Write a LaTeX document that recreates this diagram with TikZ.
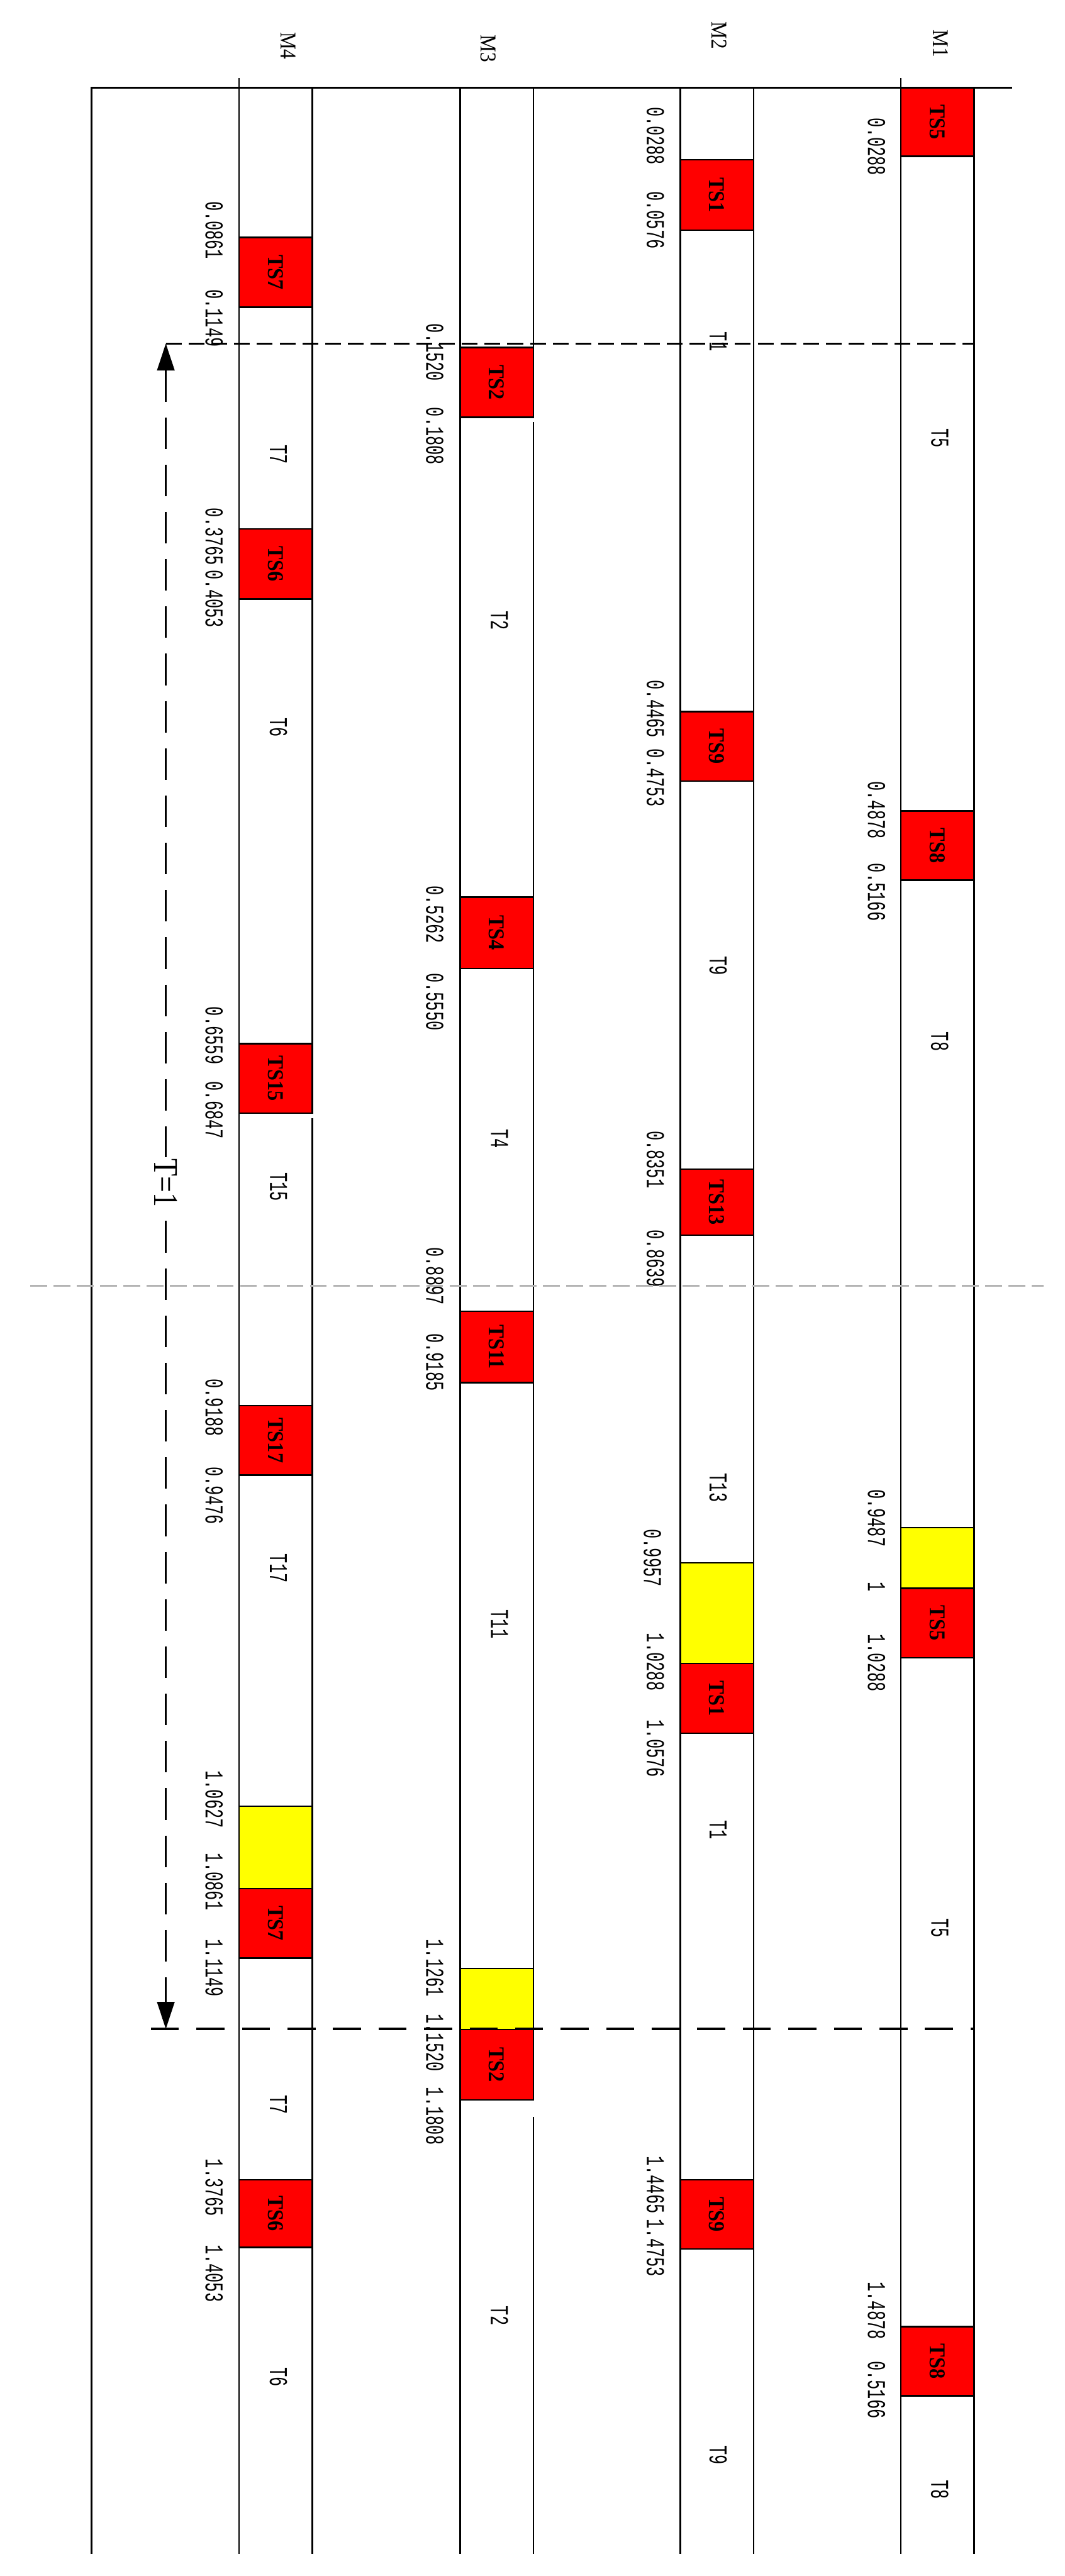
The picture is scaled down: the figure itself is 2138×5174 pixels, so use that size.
\documentclass[tikz,border=0pt]{standalone}
\usepackage{fontspec}
\usepackage{tikz}
\usetikzlibrary{arrows.meta}
\setmainfont{Liberation Serif}
\newfontfamily\valfont[FakeStretch=0.62]{Liberation Mono}
\newfontfamily\tsfont[FakeStretch=0.9]{Liberation Serif}
\newfontfamily\mfont[FakeStretch=0.87]{Liberation Serif}
\newfontfamily\perfont[FakeStretch=0.83]{Liberation Serif}
\definecolor{tsred}{RGB}{255,0,0}
\definecolor{idleyellow}{RGB}{255,255,0}
\definecolor{markgray}{RGB}{180,180,180}

\tikzset{
  lane/.style={line width=0.85pt},
  tsbox/.style={draw=black, fill=tsred, line width=0.9pt, rotate=-90, inner sep=0pt,
    minimum height=1.47cm, font=\tsfont\fontsize{12.9}{13}\selectfont\bfseries},
  idlebox/.style={draw=black, fill=idleyellow, line width=0.9pt, rotate=-90, inner sep=0pt,
    minimum height=1.47cm},
  tasklabel/.style={rotate=-90, inner sep=0pt, font=\valfont\fontsize{14.7}{15}\selectfont},
  vallabel/.style={rotate=-90, inner sep=0pt, font=\valfont\fontsize{14.7}{15}\selectfont},
  mlabel/.style={rotate=-90, inner sep=0pt, font=\mfont\fontsize{12.9}{13}\selectfont}
}

\begin{document}
\begin{tikzpicture}[x=0.01cm, y=-0.01cm]
\useasboundingbox (0,0) rectangle (2138,5174);

% machine headers
\node[mlabel] (m4) at (579,92) {M4};
\node[mlabel] (m3) at (980,98) {M3};
\node[mlabel] (m2) at (1444,71) {M2};
\node[mlabel] (m1) at (1889,88) {M1};

% frame and lanes
\draw[lane] (184,5130) -- (184,176) -- (2033,176);
\draw[lane] (480,157) -- (480,5130);
\draw[lane] (1809,157) -- (1809,5130);
\foreach \x in {924,1366}
    \draw[lane] (\x,176) -- (\x,5130);
\foreach \x in {1513,1956}
    \draw[lane] (\x,176) -- (\x,5130);
\draw[lane] (627,176) -- (627,2236) (627,2246) -- (627,5130);
\draw[lane] (1071,176) -- (1071,838) (1071,848) -- (1071,4218) (1071,4252) -- (1071,5130);

% idle time
\foreach \x/\a/\b [count=\i] in {1809/3068/3190, 1366/3139/3341, 924/3954/4076, 480/3628/3793}
    \node[idlebox, minimum width={(\b-\a)*0.01cm}] (idle\i) at ({\x+73.5},{(\a+\b)/2}) {};

% setup blocks
\foreach \x/\a/\b/\n [count=\i] in {
    1809/176/314/TS5, 1809/1629/1768/TS8, 1809/3190/3330/TS5, 1809/4673/4812/TS8,
    1366/321/462/TS1, 1366/1429/1569/TS9, 1366/2348/2481/TS13, 1366/3341/3481/TS1, 1366/4378/4517/TS9,
    924/698/838/TS2, 924/1802/1945/TS4, 924/2634/2777/TS11, 924/4076/4218/TS2,
    480/477/617/TS7, 480/1062/1203/TS6, 480/2096/2236/TS15, 480/2823/2963/TS17, 480/3793/3933/TS7, 480/4378/4514/TS6}
    \node[tsbox, minimum width={(\b-\a)*0.01cm}] (setup\i) at ({\x+73.5},{(\a+\b)/2}) {\n};

% task names
\foreach \x/\y/\t [count=\i] in {
    1887/880/T5, 1887/2092/T8, 1887/3872/T5, 1887/5000/T8,
    1442/686/T1, 1442/1940/T9, 1442/2988/T13, 1442/3675/T1, 1442/4931/T9,
    1003/1246/T2, 1003/2287/T4, 1003/3262/T11, 1003/4651/T2,
    559/913/T7, 559/1461/T6, 559/2384/T15, 559/3150/T17, 559/4227/T7, 559/4774/T6}
    \node[tasklabel] (task\i) at (\x,\y) {\t};

% times
\foreach \x/\y/\v [count=\i] in {
    1760/295/0.0288, 1760/1627/0.4878, 1760/1792/0.5166, 1760/3049/0.9487, 1760/3187/1,
    1760/3340/1.0288, 1760/4641/1.4878, 1760/4800/0.5166,
    1316/273/0.0288, 1316/442/0.0576, 1316/1424/0.4465, 1316/1562/0.4753, 1316/2329/0.8351,
    1316/2528/0.8639, 1310/3129/0.9957, 1316/3338/1.0288, 1316/3512/1.0576, 1316/4388/1.4465,
    1316/4515/1.4753,
    873/708/0.1520, 873/876/0.1808, 873/1837/0.5262, 873/2012/0.5550, 873/2563/0.8897,
    873/2736/0.9185, 873/3953/1.1261, 873/4103/1.1520, 873/4250/1.1808,
    430/463/0.0861, 430/639/0.1149, 430/1078/0.3765, 430/1203/0.4053, 430/2080/0.6559,
    430/2230/0.6847, 430/2827/0.9188, 430/3004/0.9476, 430/3614/1.0627, 430/3779/1.0861,
    430/3953/1.1149, 430/4394/1.3765, 430/4566/1.4053}
    \node[vallabel] (time\i) at (\x,\y) {\v};

% period T=1
\coordinate (p0) at (333,690);
\coordinate (p1) at (333,4075);
\coordinate (h0) at (303,4075);
\coordinate (e0) at (1956,690);
\coordinate (e1) at (1956,4075);
\draw[line width=0.9pt, dash pattern=on 9pt off 4pt] (p0) -- (e0);
\draw[line width=1.2pt, dash pattern=on 16pt off 10pt] (h0) -- (e1);
\draw[line width=0.85pt, dash pattern=on 18pt off 9pt,
    {Triangle[length=5.4mm, width=3.5mm]}-{Triangle[length=5.4mm, width=3.5mm]}] (p0) -- (p1);
\node[rotate=-90, fill=white, inner sep=1pt, font=\perfont\fontsize{19.8}{20}\selectfont] (period) at (333,2376) {T=1};

% current time
\coordinate (g0) at (61,2582);
\coordinate (g1) at (2095,2582);
\draw[markgray, line width=1.1pt, dash pattern=on 9.6pt off 3.7pt] (g0) -- (g1);
\end{tikzpicture}
\end{document}
